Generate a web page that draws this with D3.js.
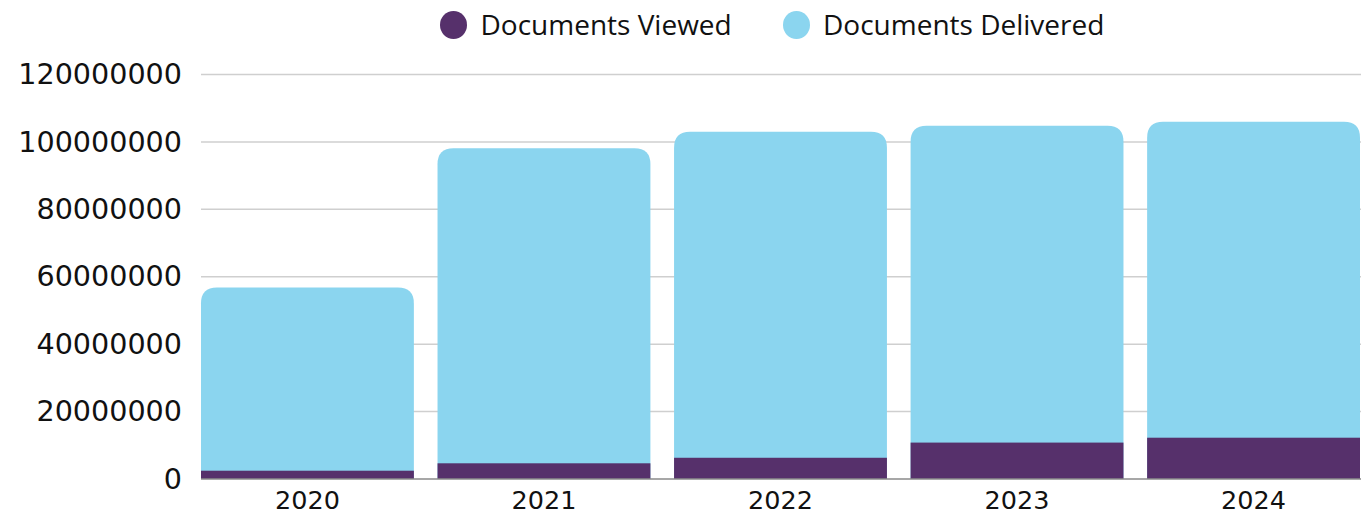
<!DOCTYPE html>
<html>
<head>
<meta charset="utf-8">
<script src="https://cdn.jsdelivr.net/npm/d3@7"></script>
<style>
  html, body { margin: 0; padding: 0; background: #fff; }
  svg { display: block; }
</style>
</head>
<body>
<div id="chart"></div>
<script>
// chart values
const years = ["2020", "2021", "2022", "2023", "2024"];
const delivered = [56800000, 98100000, 103000000, 104800000, 106000000];
const viewed = [2460000, 4660000, 6300000, 10800000, 12250000];
const yTicks = [0, 20000000, 40000000, 60000000, 80000000, 100000000, 120000000];
const seriesNames = ["Documents Viewed", "Documents Delivered"];

const colors = { viewed: "#56306b", delivered: "#8bd5ef" };

const width = 1361, height = 516;

const svg = d3.select("#chart")
  .append("svg")
    .attr("width", width)
    .attr("height", height);

const x = d3.scaleBand()
  .domain(years)
  .range([201, 1360])
  .paddingInner(0.1)
  .paddingOuter(0);

const y = d3.scaleLinear()
  .domain([0, 120000000])
  .range([479, 74.5]);

// gridlines
svg.append("g")
  .selectAll("line")
  .data(yTicks.filter(d => d > 0))
  .enter().append("line")
    .attr("x1", 201)
    .attr("x2", width)
    .attr("y1", d => y(d))
    .attr("y2", d => y(d))
    .attr("stroke", "#cfcfcf")
    .attr("stroke-width", 1.5);

// y tick labels (no axis line)
const yAxis = d3.axisLeft(y)
  .tickValues(yTicks)
  .tickFormat(d3.format("d"))
  .tickSize(0)
  .tickPadding(0);

svg.append("g")
  .attr("transform", "translate(182,0)")
  .call(yAxis)
  .call(g => g.select(".domain").remove())
  .selectAll("text")
    .attr("font-family", "DejaVu Sans")
    .attr("font-size", 28.6)
    .attr("fill", "#111");

// rounded-top bar path
function roundTop(x0, y0, w, h, r) {
  r = Math.min(r, h, w / 2);
  return `M${x0},${y0 + h}V${y0 + r}Q${x0},${y0} ${x0 + r},${y0}` +
    `H${x0 + w - r}Q${x0 + w},${y0} ${x0 + w},${y0 + r}V${y0 + h}Z`;
}

const rows = years.map((yr, i) => ({ year: yr, delivered: delivered[i], viewed: viewed[i] }));

svg.append("g")
  .selectAll("path")
  .data(rows)
  .enter().append("path")
    .attr("d", d => roundTop(x(d.year), y(d.delivered), x.bandwidth(), y(0) - y(d.delivered), 16))
    .attr("fill", colors.delivered);

svg.append("g")
  .selectAll("rect")
  .data(rows)
  .enter().append("rect")
    .attr("x", d => x(d.year))
    .attr("y", d => y(d.viewed))
    .attr("width", x.bandwidth())
    .attr("height", d => y(0) - y(d.viewed))
    .attr("fill", colors.viewed);

// baseline
svg.append("line")
  .attr("x1", 201)
  .attr("x2", width)
  .attr("y1", y(0))
  .attr("y2", y(0))
  .attr("stroke", "#8a8a8a")
  .attr("stroke-width", 1.5);

// x axis labels
const xAxis = d3.axisBottom(x).tickSize(0).tickPadding(0);
svg.append("g")
  .attr("transform", `translate(0,${y(0) + 30})`)
  .call(xAxis)
  .call(g => g.select(".domain").remove())
  .selectAll("text")
    .attr("dy", 0)
    .attr("font-family", "DejaVu Sans")
    .attr("font-size", 25.5)
    .attr("fill", "#111");

// legend
const legendItems = [
  { name: seriesNames[0], color: colors.viewed, cx: 453.5, tx: 480.5 },
  { name: seriesNames[1], color: colors.delivered, cx: 796.5, tx: 823 }
];
const legend = svg.append("g").selectAll("g")
  .data(legendItems)
  .enter().append("g");

legend.append("ellipse")
  .attr("cx", d => d.cx)
  .attr("cy", 25)
  .attr("rx", 13.5)
  .attr("ry", 14)
  .attr("fill", d => d.color);

legend.append("text")
  .attr("x", d => d.tx)
  .attr("y", 35)
  .attr("font-family", "Open Sans")
  .attr("font-size", 28)
  .attr("fill", "#111")
  .text(d => d.name);
</script>
</body>
</html>
